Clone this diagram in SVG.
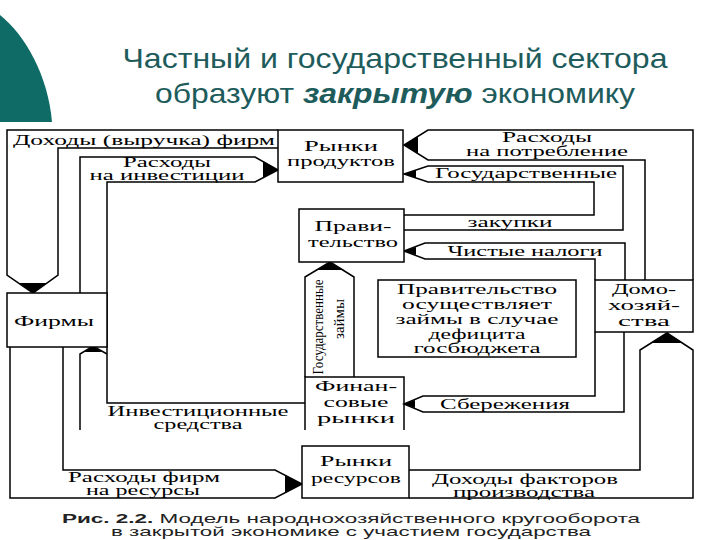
<svg xmlns="http://www.w3.org/2000/svg" width="720" height="540" viewBox="0 0 720 540">
<style>
.ln{fill:none;stroke:#000;stroke-width:1.5}
.bx{fill:#fff;stroke:#000;stroke-width:1.5}
.tip{fill:#000}
.t{font-family:"Liberation Serif","DejaVu Serif",serif;font-size:14px;fill:#000;text-anchor:middle}
.h{font-family:"Liberation Sans Narrow","Liberation Sans",sans-serif;font-size:28px;fill:#1e5c5c;text-anchor:middle}
.c{font-family:"Liberation Sans",sans-serif;font-size:13px;fill:#222;text-anchor:middle}
</style>
<rect width="720" height="540" fill="#fff"/>
<path d="M0,15 C25,35 48,75 52,122 H0 Z" fill="#0f6b66"/>
<text class="h" x="395" y="68" textLength="545" lengthAdjust="spacingAndGlyphs">Частный и государственный сектора</text>
<text class="h" x="395" y="103" textLength="480" lengthAdjust="spacingAndGlyphs">образуют <tspan font-weight="bold" font-style="italic">закрытую</tspan> экономику</text>
<g id="connectors">
<path class="ln" d="M278,130 H7 V275 L33,293 L58,275 V148 H278"/>
<polygon class="tip" points="19,283 33,293 47,283"/>
<path class="ln" d="M80,293 V157 H255 L278,170 L255,182 H107 V403 H305"/>
<polygon class="tip" points="263,161 278,170 263,178"/>
<path class="ln" d="M80,430 V354 L93,346 L107,354"/>
<polygon class="tip" points="84,352 93,346 102,352"/>
<path class="ln" d="M63,347 V470 H275 L302,484 L275,498 H10 V347"/>
<polygon class="tip" points="285,475 302,484 285,493"/>
<path class="ln" d="M409,470 H640 V350 L667,333 L693,350 V498 H409"/>
<polygon class="tip" points="651,343 667,333 683,343"/>
<path class="ln" d="M645,280 V160 H428 L404,145 L428,130 H693 V280"/>
<polygon class="tip" points="418,136 404,145 418,154"/>
<path class="ln" d="M404,215 H594 V182 H428 L404,174 L428,166 H623 V230 H404"/>
<polygon class="tip" points="416,170 404,174 416,178"/>
<path class="ln" d="M595,280 V259 H425 L404,251 L425,243 H625 V280"/>
<polygon class="tip" points="416,247 404,251 416,255"/>
<path class="ln" d="M595,332 V396 H423 L404,404 L423,412 H624 V332"/>
<polygon class="tip" points="415,400 404,404 415,408"/>
<path class="ln" d="M305,377 V277 L330,262 L354,277 V377"/>
<polygon class="tip" points="316,270 330,262 344,270"/>
<text class="t" x="144" y="145" textLength="262" lengthAdjust="spacingAndGlyphs">Доходы (выручка) фирм</text>
<text class="t" x="167" y="167" textLength="88" lengthAdjust="spacingAndGlyphs">Расходы</text>
<text class="t" x="167" y="180" textLength="155" lengthAdjust="spacingAndGlyphs">на инвестиции</text>
<text class="t" x="547" y="142" textLength="90" lengthAdjust="spacingAndGlyphs">Расходы</text>
<text class="t" x="547" y="156" textLength="162" lengthAdjust="spacingAndGlyphs">на потребление</text>
<text class="t" x="526" y="178" textLength="182" lengthAdjust="spacingAndGlyphs">Государственные</text>
<text class="t" x="510" y="227" textLength="85" lengthAdjust="spacingAndGlyphs">закупки</text>
<text class="t" x="525" y="256" textLength="155" lengthAdjust="spacingAndGlyphs">Чистые налоги</text>
<text class="t" x="505" y="409" textLength="130" lengthAdjust="spacingAndGlyphs">Сбережения</text>
<text class="t" x="198" y="416" textLength="181" lengthAdjust="spacingAndGlyphs">Инвестиционные</text>
<text class="t" x="198" y="429" textLength="89" lengthAdjust="spacingAndGlyphs">средства</text>
<text class="t" x="144" y="482" textLength="152" lengthAdjust="spacingAndGlyphs">Расходы фирм</text>
<text class="t" x="143" y="495" textLength="114" lengthAdjust="spacingAndGlyphs">на ресурсы</text>
<text class="t" x="525" y="484" textLength="186" lengthAdjust="spacingAndGlyphs">Доходы факторов</text>
<text class="t" x="524" y="497" textLength="142" lengthAdjust="spacingAndGlyphs">производства</text>
<text class="t" transform="translate(323,327) rotate(-90)" textLength="95" lengthAdjust="spacingAndGlyphs">Государственные</text>
<text class="t" transform="translate(344,319) rotate(-90)" textLength="40" lengthAdjust="spacingAndGlyphs">займы</text>
</g>
<g id="rynki-produktov"><rect class="bx" x="278" y="130" width="125" height="52"/>
<text class="t" x="341" y="151" textLength="74" lengthAdjust="spacingAndGlyphs">Рынки</text><text class="t" x="341" y="166" textLength="108" lengthAdjust="spacingAndGlyphs">продуктов</text></g>
<g id="pravitelstvo"><rect class="bx" x="299" y="209" width="105" height="53"/>
<text class="t" x="353" y="231" textLength="77" lengthAdjust="spacingAndGlyphs">Прави-</text><text class="t" x="353" y="247" textLength="90" lengthAdjust="spacingAndGlyphs">тельство</text></g>
<g id="firmy"><rect class="bx" x="7" y="293" width="100" height="54"/>
<text class="t" x="54" y="326" textLength="80" lengthAdjust="spacingAndGlyphs">Фирмы</text></g>
<g id="domohozyaistva"><rect class="bx" x="595" y="280" width="98" height="52"/>
<text class="t" x="644" y="294" textLength="64" lengthAdjust="spacingAndGlyphs">Домо-</text><text class="t" x="644" y="310" textLength="72" lengthAdjust="spacingAndGlyphs">хозяй-</text><text class="t" x="644" y="326" textLength="52" lengthAdjust="spacingAndGlyphs">ства</text></g>
<g id="info"><rect class="bx" x="378" y="280" width="198" height="77"/>
<text class="t" x="477" y="294" textLength="160" lengthAdjust="spacingAndGlyphs">Правительство</text><text class="t" x="477" y="309" textLength="150" lengthAdjust="spacingAndGlyphs">осуществляет</text><text class="t" x="477" y="324" textLength="163" lengthAdjust="spacingAndGlyphs">займы в случае</text><text class="t" x="477" y="339" textLength="97" lengthAdjust="spacingAndGlyphs">дефицита</text><text class="t" x="477" y="353" textLength="127" lengthAdjust="spacingAndGlyphs">госбюджета</text></g>
<g id="finansovye-rynki"><path class="ln" d="M305,430 V377 H404 V430"/>
<text class="t" x="356" y="391" textLength="82" lengthAdjust="spacingAndGlyphs">Финан-</text><text class="t" x="356" y="407" textLength="65" lengthAdjust="spacingAndGlyphs">совые</text><text class="t" x="356" y="423" textLength="78" lengthAdjust="spacingAndGlyphs">рынки</text></g>
<g id="rynki-resursov"><rect class="bx" x="302" y="446" width="107" height="52"/>
<text class="t" x="356" y="466" textLength="72" lengthAdjust="spacingAndGlyphs">Рынки</text><text class="t" x="356" y="483" textLength="90" lengthAdjust="spacingAndGlyphs">ресурсов</text></g>
<g id="caption">
<text class="c" x="351" y="523" textLength="578" lengthAdjust="spacingAndGlyphs"><tspan font-weight="bold">Рис. 2.2.</tspan> Модель народнохозяйственного кругооборота</text>
<text class="c" x="351" y="536" textLength="480" lengthAdjust="spacingAndGlyphs">в закрытой экономике с участием государства</text>
</g>
</svg>
